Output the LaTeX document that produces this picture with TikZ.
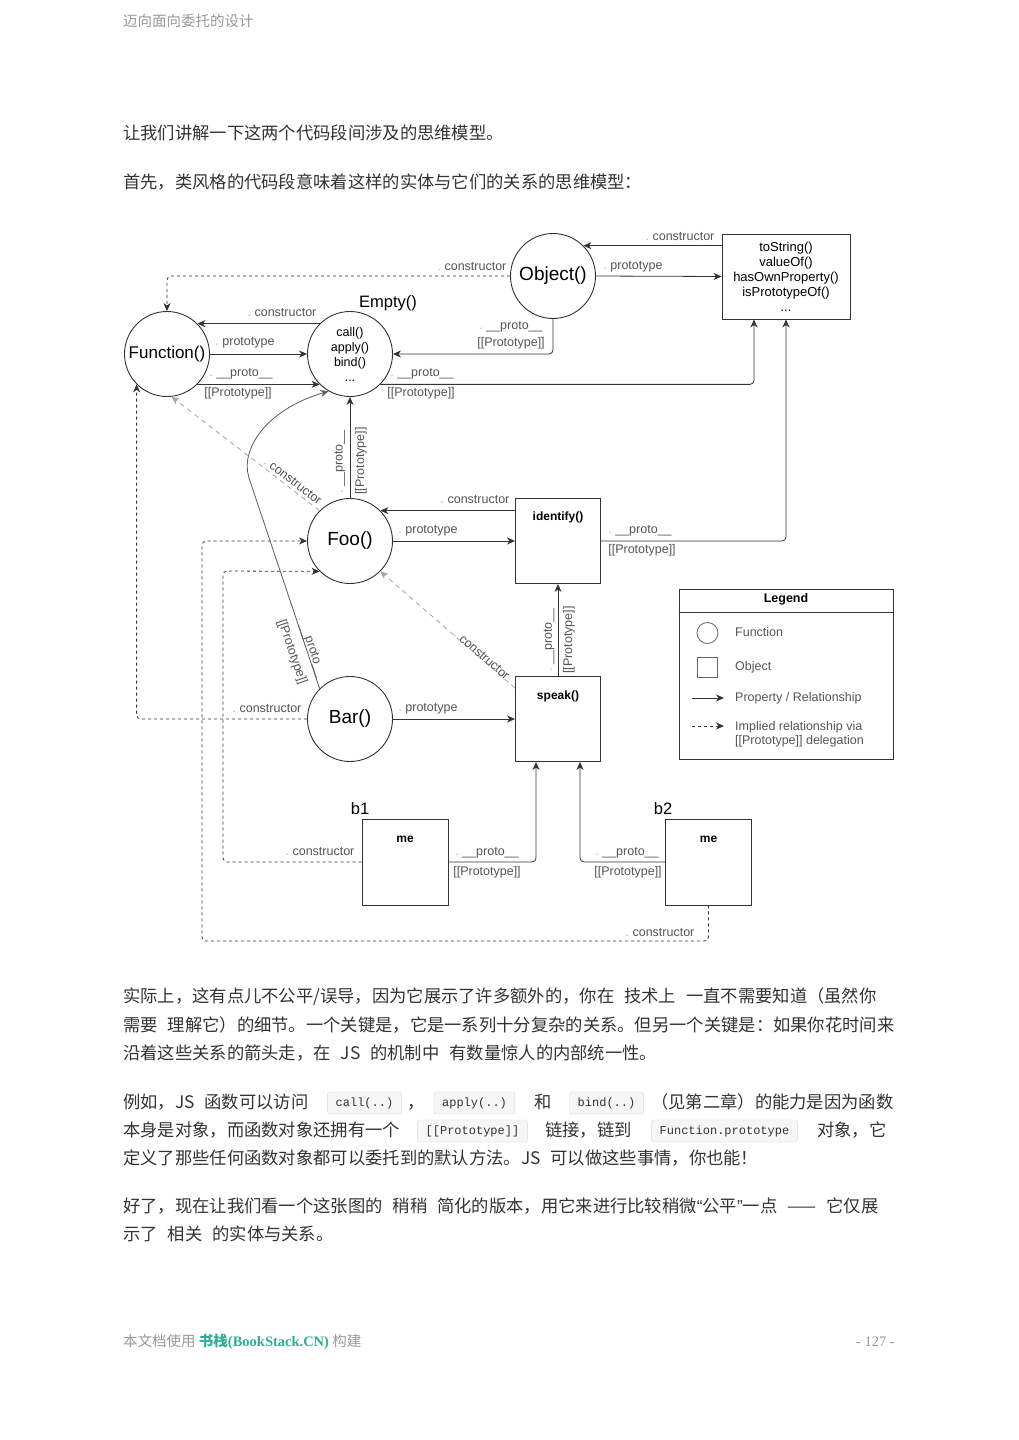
\documentclass[tikz,border=0pt]{standalone}
\usepackage{fontspec}
\setmainfont{Liberation Sans}
\newfontfamily\cjk{Noto Sans CJK SC}
\newfontfamily\cjkh{Noto Sans CJK SC}
\newfontfamily\serifz{Liberation Serif}
\newfontfamily\monoz{Liberation Mono}
\usetikzlibrary{arrows.meta}
\definecolor{lblc}{HTML}{555555}
\definecolor{dotc}{HTML}{BBBBBB}
\definecolor{lnc}{HTML}{333333}
\definecolor{dashg}{HTML}{A8A8A8}
\definecolor{bodyc}{HTML}{333333}
\definecolor{hdrc}{HTML}{999999}
\definecolor{bsgreen}{HTML}{2FAE94}
\definecolor{codebg}{HTML}{F6F6F6}
\definecolor{codebd}{HTML}{DADADA}
\newcommand\dt{\textcolor{dotc}{.}\ }
\newcommand\pr{\dt\_\_proto\_\_}
\newcommand\PP{[[Prototype]]}
\newcommand\myLq{{\rmfamily “}}
\newcommand\myRq{{\rmfamily ”}}
\newcommand\gp{\hspace{10pt}}
\tikzset{
  fnc/.style={circle, draw=lnc, line width=0.9pt, minimum size=85pt, inner sep=0pt, font=\fontsize{19}{21}\selectfont},
  obox/.style={rectangle, draw=lnc, line width=0.9pt, minimum width=85pt, minimum height=85pt, inner sep=0pt},
  lbl/.style={font=\fontsize{12.5}{14}\selectfont, text=lblc, inner sep=0pt},
  bmth/.style={font=\bfseries\fontsize{12}{14}\selectfont, inner sep=0pt},
  nm/.style={font=\fontsize{16.5}{18}\selectfont, inner sep=0pt},
  arr/.style={draw=lnc, line width=0.8pt, rounded corners=4pt, -{Stealth[length=8pt,width=7pt,inset=2.5pt]}},
  darr/.style={arr, dash pattern=on 3pt off 3pt},
  garr/.style={arr, draw=dashg, dash pattern=on 5pt off 4pt},
  bodyt/.style={anchor=base west, inner sep=0pt, font=\cjk\fontsize{17.3}{20}\selectfont, text=bodyc},
  codet/.style={draw=codebd, fill=codebg, rounded corners=2pt, inner xsep=8pt, inner ysep=0pt, minimum height=22pt, font=\monoz\fontsize{12}{14}\selectfont, text=bodyc},
  legt/.style={anchor=west, inner sep=0pt, font=\fontsize{12.5}{14}\selectfont, text=lblc, align=left},
}
\begin{document}
\begin{tikzpicture}[x=1pt,y=-1pt]
\useasboundingbox (0,0) rectangle (1019,1440);
\fill[white] (0,0) rectangle (1019,1440);

% ---------- page text ----------
\node[bodyt, font=\cjkh\fontsize{14.5}{17}\selectfont, text=hdrc] (hdr) at (123,27) {迈向面向委托的设计};
\node[bodyt] (t1) at (123,139) {让我们讲解一下这两个代码段间涉及的思维模型。};
\node[bodyt] (t2) at (123,188) {首先，类风格的代码段意味着这样的实体与它们的关系的思维模型：};

% ---------- nodes ----------
\node[fnc] (obj) at (553,276) {Object()};
\node[obox, minimum width=128pt, font=\fontsize{13}{15}\selectfont, align=center] (objbox) at (786,276.5) {toString()\\valueOf()\\hasOwnProperty()\\isPrototypeOf()\\...};
\node[fnc, font=\fontsize{17}{19}\selectfont] (fn) at (167,354) {Function()};
\node[fnc, font=\fontsize{12.5}{15}\selectfont, align=center] (empty) at (350,354) {call()\\apply()\\bind()\\...};
\node[nm] (emptyn) at (388,303) {Empty()};
\node[fnc] (foo) at (350,541) {Foo()};
\node[fnc] (bar) at (350,719) {Bar()};
\node[obox] (identify) at (558,541) {};
\node[bmth] (identifyt) at (558,517) {identify()};
\node[obox] (speak) at (558,719) {};
\node[bmth] (speakt) at (558,696) {speak()};
\node[obox, minimum width=86pt, minimum height=86pt] (b1) at (405,862) {};
\node[bmth] (b1t) at (405,839) {me};
\node[nm] (b1n) at (360,809) {b1};
\node[obox, minimum width=86pt, minimum height=86pt] (b2) at (708.5,862) {};
\node[bmth] (b2t) at (708.5,839) {me};
\node[nm] (b2n) at (663,809) {b2};

\coordinate (c1) at (223,571);
\coordinate (c2) at (202,941);
\coordinate (cv) at (249,478);

% ---------- connectors ----------
\draw[arr] (objbox.west |- obj.45) -- (obj.45);
\draw[arr] (obj.east) -- (objbox.west);
\draw[darr] (obj.west) -| (fn.north);
\draw[arr] (obj.south) |- (empty.east);
\draw[arr] (empty.135) -- (fn.45);
\draw[arr] (fn.east) -- (empty.west);
\draw[arr] (fn.-45) -- (empty.-135);
\draw[arr] (empty.-45) -| ([xshift=-32pt]objbox.south);
\draw[arr] (foo.north) -- (empty.south);
\draw[arr] (identify.west |- foo.45) -- (foo.45);
\draw[arr] (foo.east) -- (identify.west);
\draw[arr] (identify.east) -| (objbox.south);
\draw[garr] (foo.135) -- (fn.-84);
\draw[arr, draw=lnc!80, rounded corners=0pt] (bar.135) -- (cv) .. controls (240,450) and (265,410) .. (empty.-120);
\draw[arr] (speak.north) -- (identify.south);
\draw[arr] (bar.east) -- (speak.west);
\draw[garr] ([yshift=-12pt]speak.north west) -- (foo.-45);
\draw[darr] (bar.west) -| (fn.-135);
\draw[arr] (b1.east) -| ([xshift=-22pt]speak.south);
\draw[arr] (b2.west) -| ([xshift=22pt]speak.south);
\draw[darr] (b1.west) -| (c1) -- (foo.-135);
\draw[darr] (b2.south) |- (c2) |- (foo.west);

% ---------- labels ----------
\node[lbl] (l1) at (680,237) {\dt constructor};
\node[lbl] (l2) at (633,267) {\dt prototype};
\node[lbl] (l3) at (472,267) {\dt constructor};
\node[lbl] (l4a) at (511,327) {\pr};
\node[lbl] (l4b) at (511,343) {\PP};
\node[lbl] (l5) at (282,313) {\dt constructor};
\node[lbl] (l6) at (245,343) {\dt prototype};
\node[lbl] (l7a) at (241,374) {\pr};
\node[lbl] (l7b) at (238,393) {\PP};
\node[lbl] (l8a) at (422,374) {\pr};
\node[lbl] (l8b) at (421,393) {\PP};
\node[lbl, rotate=90] (l9a) at (340,462) {\pr};
\node[lbl, rotate=90] (l9b) at (361,461) {\PP};
\node[lbl] (l10) at (475,500) {\dt constructor};
\node[lbl] (l11) at (428,531) {\dt prototype};
\node[lbl] (l12a) at (640,531) {\pr};
\node[lbl] (l12b) at (642,550) {\PP};
\node[lbl, rotate=-37] (l13) at (293,481) {\dt constructor};
\node[lbl, rotate=-71] (l14a) at (311,647) {\pr};
\node[lbl, rotate=-71] (l14b) at (292,652) {\PP};
\node[lbl, rotate=90] (l15a) at (549,640) {\pr};
\node[lbl, rotate=90] (l15b) at (569,640) {\PP};
\node[lbl] (l16) at (428,709) {\dt prototype};
\node[lbl, rotate=-41] (l17) at (482,655) {\dt constructor};
\node[lbl] (l18) at (267,709) {\dt constructor};
\node[lbl] (l19a) at (487,853) {\pr};
\node[lbl] (l19b) at (487,872) {\PP};
\node[lbl] (l20a) at (627,853) {\pr};
\node[lbl] (l20b) at (628,872) {\PP};
\node[lbl] (l21) at (320,852) {\dt constructor};
\node[lbl] (l22) at (660,933) {\dt constructor};

% ---------- legend ----------
\node[draw=lnc, line width=0.8pt, minimum width=214pt, minimum height=170pt, inner sep=0pt] (leg) at (786,674) {};
\draw[draw=lnc, line width=0.8pt] ([yshift=-24pt]leg.north west) -- ([yshift=-24pt]leg.north east);
\node[font=\bfseries\fontsize{12.5}{14}\selectfont, inner sep=0pt] (legt0) at (786,599) {Legend};
\node[circle, draw=black!60, line width=0.8pt, minimum size=21pt, inner sep=0pt] (legc) at (707.5,633) {};
\node[legt] (legct) at (735,632) {Function};
\node[draw=black!60, line width=0.8pt, minimum size=20pt, inner sep=0pt] (legs) at (707.5,667.5) {};
\node[legt] (legst) at (735,667) {Object};
\coordinate (la1) at (692,698);
\coordinate (la2) at (724,698);
\draw[arr] (la1) -- (la2);
\node[legt] (legat) at (735,698) {Property / Relationship};
\coordinate (ld1) at (692,726);
\coordinate (ld2) at (724,726);
\draw[darr] (ld1) -- (ld2);
\node[legt] (legdt) at (735,734) {Implied relationship via\\\PP{} delegation};

% ---------- body text ----------
\node[bodyt] (a1) at (123,1002) {实际上，这有点儿不公平/误导，因为它展示了许多额外的，你在\gp 技术上\gp 一直不需要知道（虽然你};
\node[bodyt] (a2) at (123,1031) {需要\gp 理解它）的细节。一个关键是，它是一系列十分复杂的关系。但另一个关键是：如果你花时间来};
\node[bodyt] (a3) at (123,1059) {沿着这些关系的箭头走，在\gp JS\gp 的机制中\gp 有数量惊人的内部统一性。};

\node[bodyt] (b1a) at (123,1108) {例如，JS\gp 函数可以访问};
\node[codet] (k1) at (364.5,1103) {call(..)};
\node[bodyt] (b1b) at (407,1108) {，};
\node[codet] (k2) at (474.5,1103) {apply(..)};
\node[bodyt] (b1c) at (534,1108) {和};
\node[codet] (k3) at (606.5,1103) {bind(..)};
\node[bodyt] (b1d) at (651,1108) {（见第二章）的能力是因为函数};
\node[bodyt] (b2a) at (123,1136) {本身是对象，而函数对象还拥有一个};
\node[codet] (k4) at (472.5,1131) {[[Prototype]]};
\node[bodyt] (b2b) at (545,1136) {链接，链到};
\node[codet] (k5) at (724.5,1131) {Function.prototype};
\node[bodyt] (b2c) at (817,1136) {对象，它};
\node[bodyt] (b3) at (123,1164) {定义了那些任何函数对象都可以委托到的默认方法。JS\gp 可以做这些事情，你也能！};

\node[bodyt] (c1t) at (123,1212) {好了，现在让我们看一个这张图的\gp 稍稍\gp 简化的版本，用它来进行比较稍微\myLq 公平\myRq 一点\gp ——\gp 它仅展};
\node[bodyt] (c2t) at (123,1240) {示了\gp 相关\gp 的实体与关系。};

% ---------- footer ----------
\node[bodyt, font=\cjkh\fontsize{14.5}{17}\selectfont, text=hdrc] (foot) at (123,1346) {本文档使用 {\color{bsgreen}\bfseries 书栈}{\color{bsgreen}\serifz\bfseries (BookStack.CN)} 构建};
\node[anchor=base east, inner sep=0pt, font=\serifz\fontsize{14.5}{17}\selectfont, text=hdrc] (pg) at (895,1346) {- 127 -};
\end{tikzpicture}
\end{document}
